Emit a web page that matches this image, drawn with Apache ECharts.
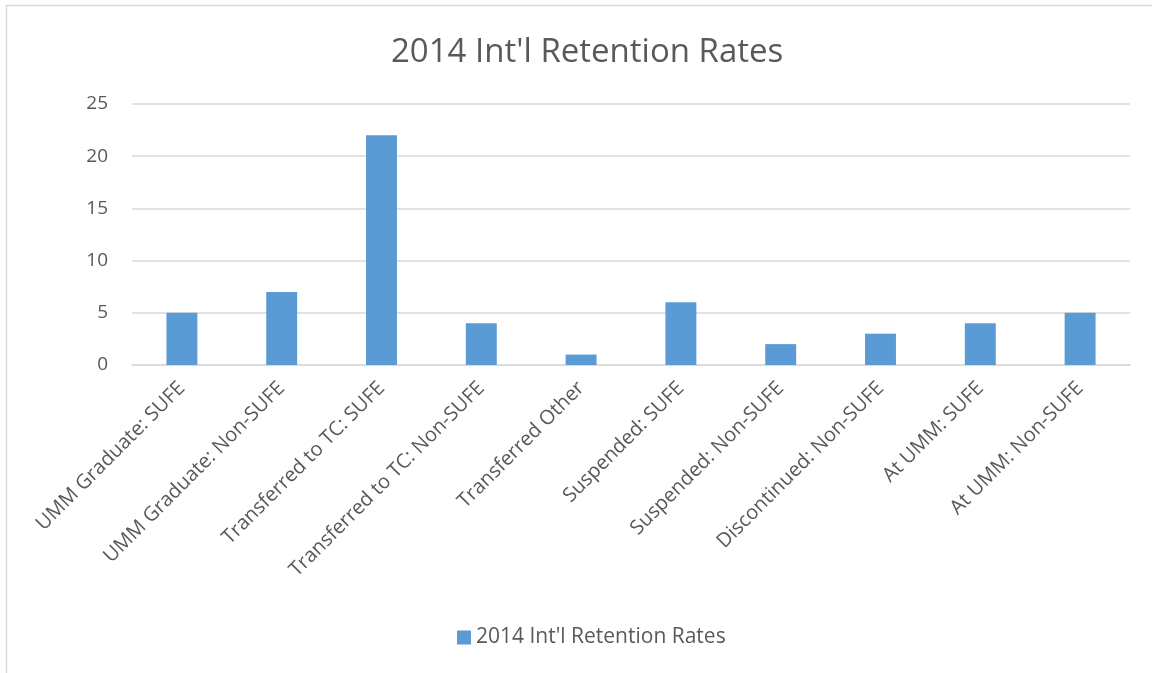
<!DOCTYPE html>
<html>
<head>
<meta charset="utf-8">
<script src="https://cdn.jsdelivr.net/npm/echarts@6/dist/echarts.min.js"></script>
<style>
  html, body { margin: 0; padding: 0; background: #fff; }
  #chart { width: 1152px; height: 673px; }
</style>
</head>
<body>
<div id="chart"></div>
<script>
// categories along the x axis
var categories = [
    'UMM Graduate: SUFE', 'UMM Graduate: Non-SUFE', 'Transferred to TC: SUFE',
    'Transferred to TC: Non-SUFE', 'Transferred Other', 'Suspended: SUFE',
    'Suspended: Non-SUFE', 'Discontinued: Non-SUFE', 'At UMM: SUFE', 'At UMM: Non-SUFE'
];
// values
var retention = [5, 7, 22, 4, 1, 6, 2, 3, 4, 5];
var seriesName = "2014 Int'l Retention Rates";

var font = '"Open Sans", "Liberation Sans", sans-serif';
var textColor = '#595959';

var myChart = echarts.init(document.getElementById('chart'));

myChart.setOption({
    backgroundColor: '#ffffff',
    animation: false,
    // outer chart border
    graphic: [{
        type: 'rect',
        shape: { x: 6.5, y: 5.5, width: 1200, height: 700 },
        style: { fill: 'none', stroke: '#d9d9d9', lineWidth: 1.5 },
        silent: true
    }],
    title: {
        text: seriesName,
        left: 386,
        top: 31,
        textStyle: {
            color: textColor,
            fontFamily: font,
            fontSize: 33,
            fontWeight: 'normal'
        }
    },
    legend: {
        data: [seriesName],
        bottom: 20,
        left: 452,
        itemWidth: 14,
        itemHeight: 14,
        itemGap: 5,
        icon: 'rect',
        textStyle: {
            color: textColor,
            fontFamily: font,
            fontSize: 21
        }
    },
    grid: {
        left: 132,
        right: 22,
        top: 104,
        bottom: 308,
        containLabel: false
    },
    xAxis: {
        type: 'category',
        data: categories,
        axisTick: { show: false },
        axisLine: { lineStyle: { color: '#d9d9d9', width: 1.5 } },
        axisLabel: {
            rotate: 45,
            interval: 0,
            margin: 20,
            color: textColor,
            fontFamily: font,
            fontSize: 20
        }
    },
    yAxis: {
        type: 'value',
        min: 0,
        max: 25,
        interval: 5,
        axisLine: { show: false },
        axisTick: { show: false },
        splitLine: { lineStyle: { color: '#d9d9d9', width: 1.5 } },
        axisLabel: {
            margin: 24,
            color: textColor,
            fontFamily: font,
            fontSize: 19
        }
    },
    series: [{
        name: seriesName,
        type: 'bar',
        data: retention,
        barWidth: '31%',
        itemStyle: { color: '#5b9bd5' }
    }]
});
</script>
</body>
</html>
